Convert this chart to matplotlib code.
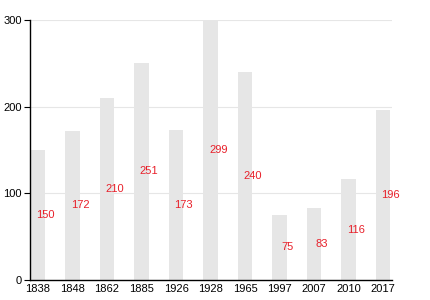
import matplotlib
matplotlib.use("Agg")
import matplotlib.pyplot as plt
import numpy as np

plt.rcParams["font.family"] = ["Liberation Sans", "DejaVu Sans"]

# Data
years = ["1838", "1848", "1862", "1885", "1926", "1928", "1965", "1997", "2007", "2010", "2017"]
values = [150, 172, 210, 251, 173, 299, 240, 75, 83, 116, 196]
yticks = [0, 100, 200, 300]

fig = plt.figure(figsize=(4.3, 3.0), dpi=100)
ax = fig.add_axes([0.07, 0.067, 0.842, 0.866])

x = np.arange(len(years))
ax.bar(x, values, width=0.42, color="#e6e6e6", zorder=2)

# value labels, red, at half height, nudged right of the bar centre
for xi, v in zip(x, values):
    ax.text(xi + 0.22, v / 2, str(v), color="#e8202a", fontsize=8,
            ha="center", va="center", zorder=3)

ax.set_xlim(-0.23, len(years) - 1 + 0.26)
ax.set_ylim(0, 300)
ax.set_yticks(yticks)
ax.set_xticks(x)
ax.set_xticklabels(years)
ax.tick_params(axis="x", length=0, labelsize=8, pad=3)
ax.tick_params(axis="y", length=4, width=0.8, labelsize=8, pad=2)
ax.grid(axis="y", color="#e6e6e6", linewidth=0.8, zorder=1)

for s in ["top", "right"]:
    ax.spines[s].set_visible(False)
ax.spines["left"].set_linewidth(1.0)
ax.spines["bottom"].set_linewidth(1.0)

fig.savefig("out.png", dpi=100)
